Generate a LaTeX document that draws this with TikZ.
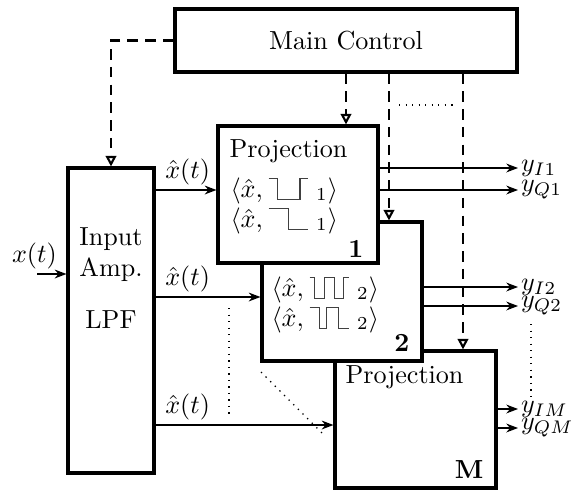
\documentclass[tikz,border=0pt]{standalone}
\usepackage{amsmath,amssymb}
\usetikzlibrary{arrows.meta,fit,calc}
\tikzset{
  blk/.style={draw, very thick, fill=white, inner sep=0pt},
  txt/.style={inner sep=0pt},
  sig/.style={-{Stealth[length=4.5pt,width=3.4pt]}, line width=0.45pt},
  ctl/.style={-{Triangle[open,length=4pt,width=4pt]}, thick, dash pattern=on 4pt off 2.8pt},
  dots/.style={dotted, line width=0.5pt},
  lbl/.style={inner sep=1.5pt},
  ylab/.style={anchor=west, inner sep=1pt},
  num/.style={anchor=base east, inner sep=0pt, font=\bfseries},
  wave/.style={solid, line width=0.45pt, black!75},
}
% small test waveforms inside the inner products
\newcommand{\wavA}{\tikz[baseline=0pt,x=1pt,y=1pt]\draw[wave] (0,7)--(3.5,7)--(3.5,-1)--(12,-1)--(12,7)--(15,7);}
\newcommand{\wavB}{\tikz[baseline=0pt,x=1pt,y=1pt]\draw[wave] (0,7)--(7.5,7)--(7.5,-1)--(15,-1);}
\newcommand{\wavC}{\tikz[baseline=0pt,x=1pt,y=1pt]\draw[wave] (0,7)--(2,7)--(2,-1)--(5.7,-1)--(5.7,7)--(9.5,7)--(9.5,-1)--(13,-1)--(13,7)--(15,7);}
\newcommand{\wavD}{\tikz[baseline=0pt,x=1pt,y=1pt]\draw[wave] (0,7)--(3.8,7)--(3.8,-1)--(6.5,-1)--(6.5,7)--(11,7)--(11,-1)--(15,-1);}
\begin{document}
\begin{tikzpicture}[x=0.383pt, y=-0.383pt]
  \useasboundingbox (0,0) rectangle (574,491);
  % blocks, back to front
  \node[blk, fit={(335,351) (496,488)}] (projM) {};
  \node[blk, fit={(262,222) (422,361)}] (proj2) {};
  \node[blk, fit={(218,126) (378,263)}] (proj1) {};
  \node[blk, fit={(68,168) (154,473)}] (inamp) {};
  \node[blk, fit={(175,9) (517,72)}] (main) {};

  \node[txt] (maintxt) at (main.center) {Main Control};
  \node[txt, align=center, anchor=north] (inamptxt) at (111,227) {Input\\Amp.\\[8pt]LPF};
  \node[txt, anchor=base west] (p1txt) at (229,157) {Projection};
  \node[txt, anchor=base west] (p1a) at (230,197) {$\langle\hat{x},$\hspace{2pt}\wavA\hspace{3pt}${}_1\rangle$};
  \node[txt, anchor=base west] (p1b) at (230,227) {$\langle\hat{x},$\hspace{2pt}\wavB\hspace{3pt}${}_1\rangle$};
  \node[txt, anchor=base west] (p2a) at (271,296) {$\langle\hat{x},$\hspace{2pt}\wavC\hspace{3pt}${}_2\rangle$};
  \node[txt, anchor=base west] (p2b) at (271,326) {$\langle\hat{x},$\hspace{2pt}\wavD\hspace{3pt}${}_2\rangle$};
  \node[txt, anchor=base west] (pMtxt) at (345,383) {Projection};
  \node[num] (n1) at (364,257) {1};
  \node[num] (n2) at (410,351) {2};
  \node[num] (nM) at (484,478) {M};

  % control lines
  \coordinate (c1) at (346,0);
  \coordinate (c2) at (389,0);
  \coordinate (c3) at (463,0);
  \draw[ctl] (main.west) -| (inamp.north);
  \draw[ctl] (main.south -| c1) -- (proj1.north -| c1);
  \draw[ctl] (main.south -| c2) -- (proj2.north -| c2);
  \draw[ctl] (main.south -| c3) -- (projM.north -| c3);
  \draw[dots] (399,105) -- (457,105);

  % signals
  \coordinate (xin) at (37,274);
  \coordinate (h1) at (0,190);
  \coordinate (h2) at (0,297);
  \coordinate (h3) at (0,425);
  \draw[sig] (xin) node[lbl, above, xshift=-1pt] (xlab) {$x(t)$} -- (inamp.west |- xin);
  \draw[sig] (inamp.east |- h1) node[lbl, above right, xshift=2pt] (xh1) {$\hat{x}(t)$} -- (proj1.west |- h1);
  \draw[sig] (inamp.east |- h2) node[lbl, above right, xshift=2pt] (xh2) {$\hat{x}(t)$} -- (proj2.west |- h2);
  \draw[sig] (inamp.east |- h3) node[lbl, above right, xshift=2pt] (xh3) {$\hat{x}(t)$} -- (projM.west |- h3);

  \node[ylab] (yI1) at (518,168) {$y_{I1}$};
  \node[ylab] (yQ1) at (518,190) {$y_{Q1}$};
  \node[ylab] (yI2) at (518,287) {$y_{I2}$};
  \node[ylab] (yQ2) at (518,306) {$y_{Q2}$};
  \node[ylab] (yIM) at (518,409) {$y_{IM}$};
  \node[ylab] (yQM) at (518,428) {$y_{QM}$};
  \draw[sig] (proj1.east |- yI1) -- (yI1);
  \draw[sig] (proj1.east |- yQ1) -- (yQ1);
  \draw[sig] (proj2.east |- yI2) -- (yI2);
  \draw[sig] (proj2.east |- yQ2) -- (yQ2);
  \draw[sig] (projM.east |- yIM) -- (yIM);
  \draw[sig] (projM.east |- yQM) -- (yQM);

  \draw[dots] (531,324) -- (531,400);
  \draw[dots] (229,308) -- (229,418);
  \draw[dots] (261,372) -- (323,434);
\end{tikzpicture}
\end{document}
